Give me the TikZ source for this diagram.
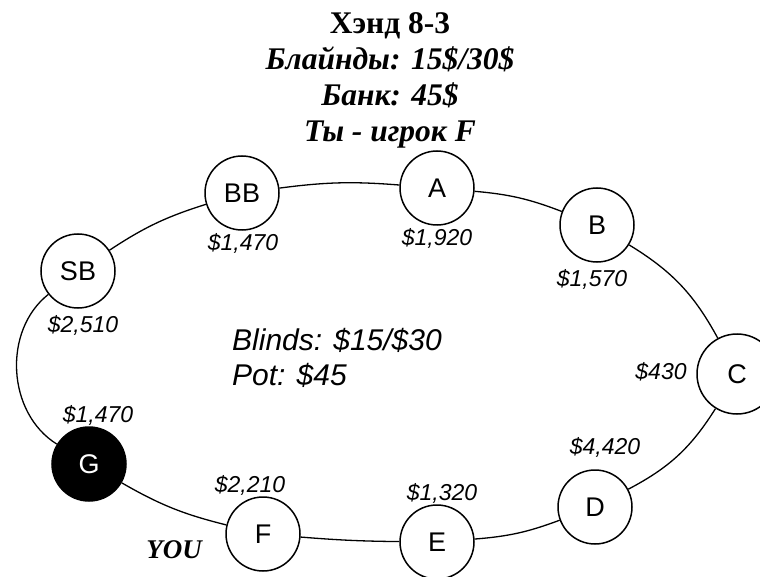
\documentclass[tikz,border=0pt]{standalone}
\usepackage{fontspec}
\setmainfont{Liberation Serif}
\setsansfont{Liberation Sans}
\usepackage{xcolor}
\usepackage{tikz}

\tikzset{
    seat/.style={circle, draw=black, line width=1.5pt, fill=white, minimum size=74pt, inner sep=0pt,
        font=\sffamily\fontsize{27}{27}\selectfont},
    hero/.style={seat, fill=black, text=white},
    stack/.style={font=\sffamily\itshape\fontsize{23}{23}\selectfont},
    rail/.style={line width=1.3pt}
}

\begin{document}
\begin{tikzpicture}[x=1pt, y=-1pt]
        \useasboundingbox (0,0) rectangle (760,577);
        \node[anchor=base, align=center, font=\bfseries\fontsize{31.5}{36}\selectfont] (title) at (390,142) {
            Хэнд 8-3\\
            \itshape Блайнды: 15\$/30\$\\
            \itshape Банк: 45\$\\
            \itshape Ты - игрок F};

        \node[seat] (bb) at (242,193) {BB};
        \node[seat] (a) at (437,188) {A};
        \node[seat] (b) at (597,225) {B};
        \node[seat, minimum size=80pt] (c) at (737,374) {C};
        \node[seat] (d) at (595,507) {D};
        \node[seat] (e) at (437,542) {E};
        \node[seat] (f) at (263,534) {F};
        \node[hero] (g) at (89,464) {G};
        \node[seat] (sb) at (78,271) {SB};

        \draw[rail] (sb) to[bend left=8] (bb);
        \draw[rail] (bb) to[bend left=6] (a);
        \draw[rail] (a) to[bend left=8] (b);
        \draw[rail] (b) to[bend left=15] (c);
        \draw[rail] (c) to[bend left=15] (d);
        \draw[rail] (d) to[bend left=8] (e);
        \draw[rail] (e) to[bend left=2] (f);
        \draw[rail] (f) to[bend left=8] (g);
        \draw[rail] (g) to[bend left=55] (sb);

        \node[stack] (bbchips) at (243,243) {\$1,470};
        \node[stack] (achips) at (437,238) {\$1,920};
        \node[stack] (bchips) at (592,279) {\$1,570};
        \node[stack] (cchips) at (661,372) {\$430};
        \node[stack] (dchips) at (605,447) {\$4,420};
        \node[stack] (echips) at (442,493) {\$1,320};
        \node[stack] (fchips) at (250,485) {\$2,210};
        \node[stack] (gchips) at (98,415) {\$1,470};
        \node[stack] (sbchips) at (83,325) {\$2,510};

        \node[anchor=base east, inner sep=0pt, font=\bfseries\itshape\fontsize{27}{27}\selectfont] (you) at (202,558) {YOU};
        \node[anchor=base west, align=left, inner sep=0pt, font=\sffamily\itshape\fontsize{30}{35}\selectfont] (pot) at (232,385) {
            Blinds: \$15/\$30\\
            Pot: \$45};
    \end{tikzpicture}
\end{document}
